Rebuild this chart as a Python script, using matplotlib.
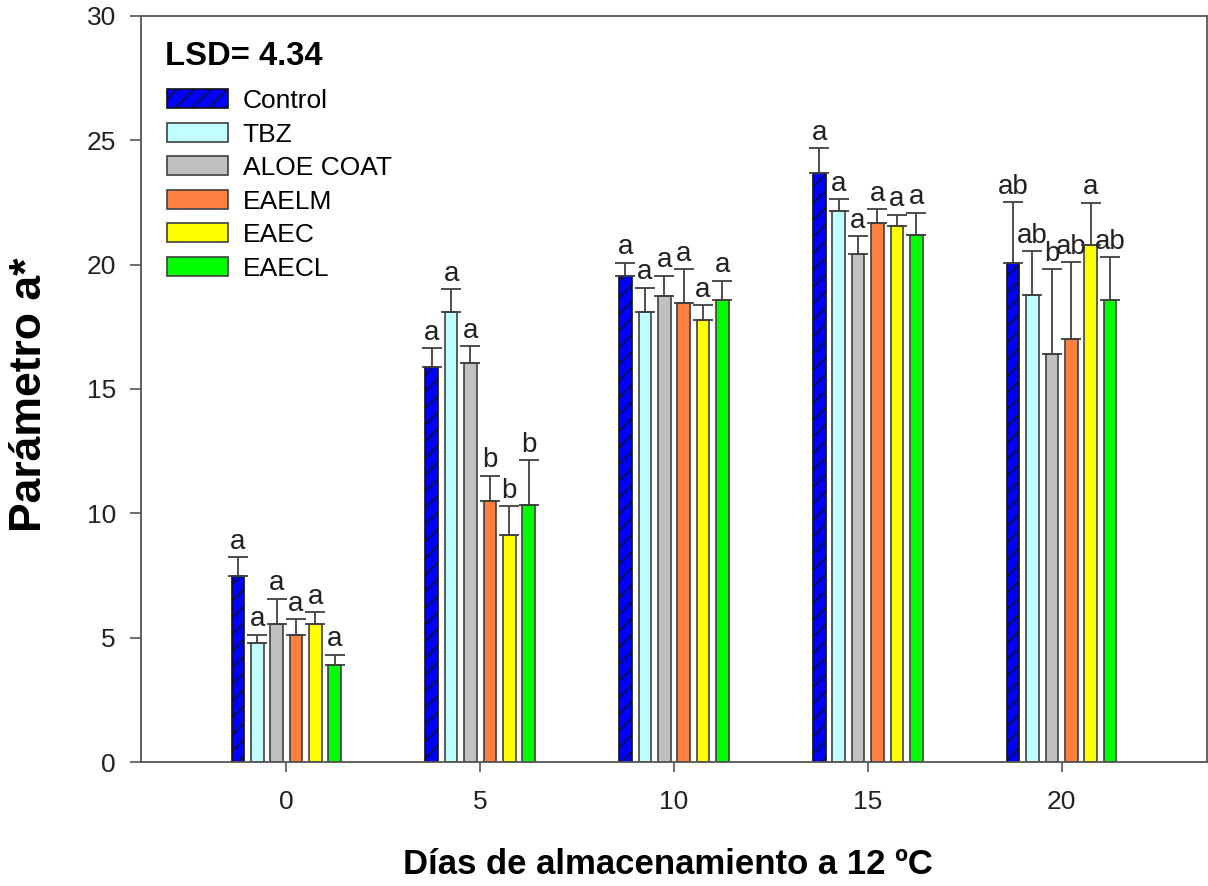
import numpy as np
import matplotlib
matplotlib.use("Agg")
import matplotlib.pyplot as plt
from matplotlib.patches import Patch

plt.rcParams['font.family'] = ['Liberation Sans', 'DejaVu Sans']
plt.rcParams['hatch.linewidth'] = 1.0

days = ['0', '5', '10', '15', '20']
treatments = ['Control', 'TBZ', 'ALOE COAT', 'EAELM', 'EAEC', 'EAECL']

# mean a* per treatment, one value per storage day
control = [7.50, 15.87, 19.55, 23.68, 20.08]
tbz = [4.80, 18.10, 18.10, 22.15, 18.78]
aloe = [5.56, 16.05, 18.72, 20.44, 16.39]
eaelm = [5.13, 10.48, 18.44, 21.65, 16.99]
eaec = [5.56, 9.12, 17.77, 21.54, 20.78]
eaecl = [3.92, 10.35, 18.57, 21.18, 18.57]

# standard errors (upper bars only)
control_err = [0.75, 0.78, 0.53, 1.01, 2.42]
tbz_err = [0.33, 0.90, 0.97, 0.49, 1.76]
aloe_err = [1.02, 0.68, 0.83, 0.70, 3.43]
eaelm_err = [0.63, 1.04, 1.37, 0.57, 3.10]
eaec_err = [0.48, 1.16, 0.60, 0.47, 1.71]
eaecl_err = [0.41, 1.80, 0.78, 0.91, 1.73]

# significance letters
control_let = ['a', 'a', 'a', 'a', 'ab']
tbz_let = ['a', 'a', 'a', 'a', 'ab']
aloe_let = ['a', 'a', 'a', 'a', 'b']
eaelm_let = ['a', 'b', 'a', 'a', 'ab']
eaec_let = ['a', 'b', 'a', 'a', 'a']
eaecl_let = ['a', 'b', 'a', 'a', 'ab']

means = [control, tbz, aloe, eaelm, eaec, eaecl]
errs = [control_err, tbz_err, aloe_err, eaelm_err, eaec_err, eaecl_err]
letters = [control_let, tbz_let, aloe_let, eaelm_let, eaec_let, eaecl_let]
colors = ['#0000FF', '#C0FFFF', '#C0C0C0', '#FF8040', '#FFFF00', '#00FF00']
hatches = ['//', None, None, None, None, None]
edges = ['#111111', '#404040', '#404040', '#404040', '#404040', '#404040']
edge = '#404040'

fig = plt.figure(figsize=(12.08, 8.86), dpi=100)
ax = fig.add_axes([0.1167, 0.1396, 0.8824, 0.8427])

x = np.arange(len(days))
step = 0.1
width = 0.065

for i in range(len(treatments)):
    pos = x + (i - 2.5) * step
    ax.bar(pos, means[i], width, color=colors[i], edgecolor=edges[i],
           linewidth=1.2, hatch=hatches[i], zorder=2)
    ax.errorbar(pos, means[i], yerr=[np.zeros(len(days)), errs[i]],
                fmt='none', ecolor=edge, elinewidth=1.3, capsize=7,
                capthick=1.3, zorder=3)
    for p, m, e, l in zip(pos, means[i], errs[i], letters[i]):
        ax.annotate(l, (p, m + e), xytext=(0, 6), textcoords='offset points',
                    ha='center', va='baseline', fontsize=20, color='#222222')

ax.set_xlim(-0.75, 4.75)
ax.set_ylim(0, 30)
ax.set_yticks(range(0, 31, 5))
ax.set_xticks(x)
ax.set_xticklabels(days)

for s in ax.spines.values():
    s.set_color('#555555')
    s.set_linewidth(1.3)

ax.tick_params(axis='y', direction='out', length=8, width=1.2, color='#555555',
               labelsize=19, pad=10, labelcolor='#222222')
ax.tick_params(axis='x', direction='out', length=7, width=1.2, color='#555555',
               labelsize=19, pad=13, labelcolor='#222222')

fig.text(30 / 1208, 1 - 395 / 886, 'Parámetro a*', rotation=90, ha='center',
         va='center', fontsize=32, fontweight='bold')
fig.text(668 / 1208, 1 - 865 / 886, 'Días de almacenamiento a 12 ºC',
         ha='center', va='center', fontsize=25, fontweight='bold')

ax.text(0.023, 0.945, 'LSD= 4.34', transform=ax.transAxes, fontsize=23.6,
        fontweight='bold', va='center', ha='left')

handles = [Patch(facecolor=c, edgecolor=ec, linewidth=1.2, hatch=h)
           for c, ec, h in zip(colors, edges, hatches)]
ax.legend(handles, treatments, loc='upper left', bbox_to_anchor=(0.0, 0.936),
          frameon=False, fontsize=19, handlelength=2.31, handleheight=0.72,
          labelspacing=0.36, handletextpad=0.58, borderaxespad=0.0,
          borderpad=0.97)

fig.savefig('out.png', dpi=100)
